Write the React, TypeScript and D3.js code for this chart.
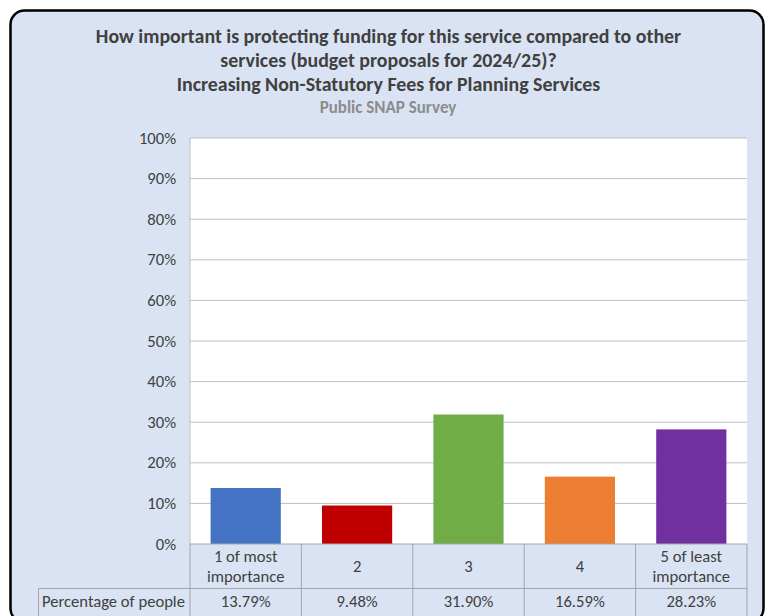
import React from "react";
import * as d3 from "d3";

const categories = ["1 of most|importance", "2", "3", "4", "5 of least|importance"];
const values = [13.79, 9.48, 31.9, 16.59, 28.23];
const valueLabels = ["13.79%", "9.48%", "31.90%", "16.59%", "28.23%"];
const colors = ["#4472C4", "#C00000", "#70AD47", "#ED7D31", "#7030A0"];
const yTicks = [0, 10, 20, 30, 40, 50, 60, 70, 80, 90, 100];
const titleLines = [
  "How important is protecting funding for this service compared to other",
  "services (budget proposals for 2024/25)?",
  "Increasing Non-Statutory Fees for Planning Services",
];
const subtitle = "Public SNAP Survey";
const rowLabel = "Percentage of people";

const FONT = "Carlito, 'Liberation Sans Narrow', 'DejaVu Sans Condensed', sans-serif";
const TXT = "#404040";
const GRID = "#BFBFBF";
const TBL = "#A6A6A6";
const BG = "#DAE3F3";

export default function App() {
  const W = 769, H = 616;
  const left = 190, right = 747, top = 138, bottom = 544;
  const x = d3.scaleBand<number>().domain(d3.range(categories.length)).range([left, right]).paddingInner(0.37).paddingOuter(0.185);
  const xb = d3.scaleBand<number>().domain(d3.range(categories.length)).range([left, right]);
  const y = d3.scaleLinear().domain([0, 100]).range([bottom, top]);
  const row1Bottom = 588.5, row2Bottom = 630, tableLeft = 38.5;
  const fs = 16.6;

  return (
    <svg width={W} height={H} style={{ position: "absolute", left: 0, top: 0, fontFamily: FONT }}>
      <rect x={0} y={0} width={W} height={H} fill="#fff" />
      <rect x={10.5} y={10.5} width={753} height={612} rx={14} fill={BG} stroke="#000" strokeWidth={2.5} />
      {titleLines.map((t, i) => (
        <text key={i} x={388.5} y={42.7 + i * 24} textAnchor="middle" fontSize={19.9} fontWeight="bold" fill={TXT}>{t}</text>
      ))}
      <text x={388} y={112.5} textAnchor="middle" fontSize={17} fontWeight="bold" fill="#8C8C8C">{subtitle}</text>

      <rect x={left} y={top} width={right - left} height={bottom - top} fill="#fff" />
      {yTicks.map((t) => (
        <g key={t}>
          {t > 0 && <line x1={left} x2={right} y1={y(t)} y2={y(t)} stroke={GRID} strokeWidth={1} />}
          <text x={176} y={y(t) + 5.5} textAnchor="end" fontSize={fs} fill={TXT}>{t}%</text>
        </g>
      ))}
      <line x1={left} x2={left} y1={top} y2={bottom} stroke={GRID} strokeWidth={1} />
      {values.map((v, i) => (
        <rect key={i} x={x(i)} y={y(v)} width={x.bandwidth()} height={y(0) - y(v)} fill={colors[i]} />
      ))}

      {/* table */}
      <line x1={left} x2={right} y1={bottom} y2={bottom} stroke={TBL} />
      <line x1={tableLeft} x2={right} y1={row1Bottom} y2={row1Bottom} stroke={TBL} />
      <line x1={tableLeft} x2={tableLeft} y1={row1Bottom} y2={row2Bottom} stroke={TBL} />
      {d3.range(categories.length + 1).map((i) => {
        const xx = i < categories.length ? xb(i)! : right;
        return <line key={i} x1={xx} x2={xx} y1={bottom} y2={row2Bottom} stroke={TBL} />;
      })}
      {categories.map((c, i) => {
        const cx = xb(i)! + xb.bandwidth() / 2;
        const parts = c.split("|");
        return (
          <g key={i}>
            {parts.length === 2 ? (
              <>
                <text x={cx} y={561.5} textAnchor="middle" fontSize={fs} fill={TXT}>{parts[0]}</text>
                <text x={cx} y={581.5} textAnchor="middle" fontSize={fs} fill={TXT}>{parts[1]}</text>
              </>
            ) : (
              <text x={cx} y={571.5} textAnchor="middle" fontSize={fs} fill={TXT}>{parts[0]}</text>
            )}
            <text x={cx} y={607} textAnchor="middle" fontSize={fs} fill={TXT}>{valueLabels[i]}</text>
          </g>
        );
      })}
      <text x={42} y={607} fontSize={fs} fill={TXT}>{rowLabel}</text>
    </svg>
  );
}
